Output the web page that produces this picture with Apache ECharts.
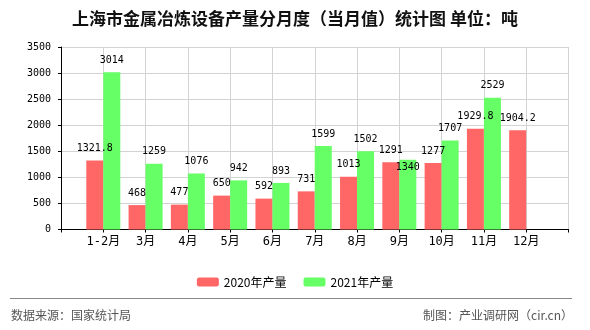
<!DOCTYPE html>
<html>
<head>
<meta charset="utf-8">
<script src="https://cdn.jsdelivr.net/npm/echarts@6/dist/echarts.min.js"></script>
<style>
html,body{margin:0;padding:0;background:#fff;}
#c{width:590px;height:330px;}
</style>
</head>
<body>
<div id="c"></div>
<script>
var titleText = '上海市金属冶炼设备产量分月度（当月值）统计图 单位：吨';
var months = ['1-2月','3月','4月','5月','6月','7月','8月','9月','10月','11月','12月'];
var values2020 = [1321.8, 468, 477, 650, 592, 731, 1013, 1291, 1277, 1929.8, 1904.2];
var values2021 = [3014, 1259, 1076, 942, 893, 1599, 1502, 1340, 1707, 2529, null];
var seriesNames = ['2020年产量', '2021年产量'];
var yTicks = [0, 500, 1000, 1500, 2000, 2500, 3000, 3500];
var sourceText = '数据来源：国家统计局';
var creditText = '制图：产业调研网（cir.cn）';

var chart = echarts.init(document.getElementById('c'));
var axisCats = [''].concat(months).concat(['']);
function pad(arr){ return [null].concat(arr).concat([null]); }
var d2020 = pad(values2020);
var d2021 = pad(values2021).map(function(v, i){
  if (months[i-1] === '9月') return {value: v, label: {offset: [0, 20]}};
  return v;
});
var monoFont = "'DejaVu Sans Mono', 'Noto Sans CJK SC', monospace";
var cjkFont = "'Noto Sans CJK SC', sans-serif";

chart.setOption({
  animation: false,
  backgroundColor: '#ffffff',
  title: {
    text: titleText,
    left: 'center',
    top: 5,
    textStyle: {fontFamily: cjkFont, fontSize: 17, fontWeight: 'bold', color: '#111'}
  },
  legend: {
    data: seriesNames,
    left: 'center',
    top: 271,
    itemWidth: 22,
    itemHeight: 9,
    itemGap: 17,
    textStyle: {fontFamily: cjkFont, fontSize: 12, color: '#000'}
  },
  grid: {left: 61, right: 21.5, top: 47, bottom: 100.5, containLabel: false},
  xAxis: {
    type: 'category',
    data: axisCats,
    boundaryGap: false,
    axisLine: {lineStyle: {color: '#000', width: 1}},
    axisTick: {show: true, length: 3, lineStyle: {color: '#000'}},
    axisLabel: {interval: 0, margin: 6, fontSize: 12, color: '#000', fontFamily: monoFont},
    splitLine: {show: true, lineStyle: {color: '#d3d3d3', width: 1}}
  },
  yAxis: {
    type: 'value',
    min: yTicks[0],
    max: yTicks[yTicks.length-1],
    interval: yTicks[1] - yTicks[0],
    axisLine: {show: true, lineStyle: {color: '#000', width: 1}},
    axisTick: {show: true, length: 3, lineStyle: {color: '#000'}},
    axisLabel: {margin: 10, fontSize: 10, color: '#000', fontFamily: monoFont,
      formatter: function(v){ return String(v); }},
    splitLine: {show: true, lineStyle: {color: '#d3d3d3', width: 1}}
  },
  series: [
    {
      name: seriesNames[0], type: 'bar', data: d2020,
      barWidth: 17, barGap: '0%',
      itemStyle: {color: '#ff6666'},
      label: {show: true, position: 'top', distance: 7, fontSize: 10, color: '#000', fontFamily: monoFont}
    },
    {
      name: seriesNames[1], type: 'bar', data: d2021,
      barWidth: 17, barGap: '0%',
      itemStyle: {color: '#66ff66'},
      label: {show: true, position: 'top', distance: 7, fontSize: 10, color: '#000', fontFamily: monoFont}
    }
  ],
  graphic: [
    {type: 'line', shape: {x1: 10, y1: 298.5, x2: 572, y2: 298.5}, style: {stroke: '#888', lineWidth: 1}},
    {type: 'text', left: 11, top: 309, style: {text: sourceText, fontSize: 12, fill: '#555', fontFamily: cjkFont}},
    {type: 'text', right: 17, top: 309, style: {text: creditText, fontSize: 12, fill: '#555', fontFamily: cjkFont}}
  ]
});
</script>
</body>
</html>
